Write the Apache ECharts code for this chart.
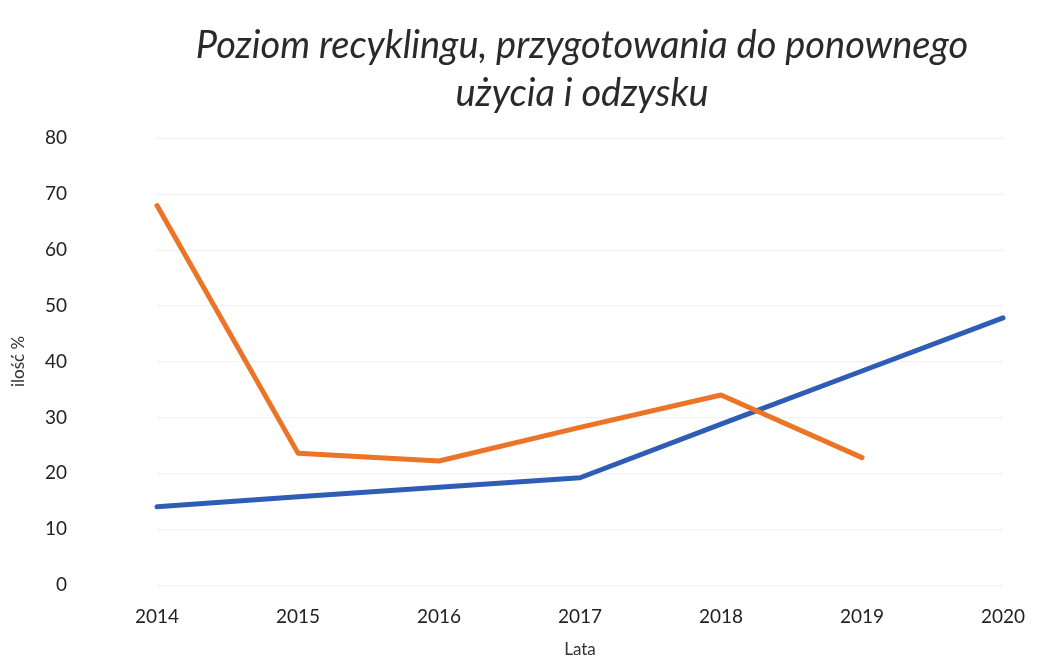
<!DOCTYPE html>
<html>
<head>
<meta charset="utf-8">
<script src="https://cdn.jsdelivr.net/npm/echarts@6/dist/echarts.min.js"></script>
<style>
html, body { margin: 0; padding: 0; background: #fff; }
#main { width: 1042px; height: 664px; }
</style>
</head>
<body>
<div id="main"></div>
<script>
var years = ['2014', '2015', '2016', '2017', '2018', '2019', '2020'];
var blueValues = [14, 15.8, 17.5, 19.2, 28.8, 38.3, 47.8];
var orangeValues = [67.9, 23.6, 22.2, 28.2, 34.0, 22.8, null];

var mychart = echarts.init(document.getElementById('main'));
var option = {
    backgroundColor: '#fff',
    title: {
        text: 'Poziom recyklingu, przygotowania do ponownego\nużycia i odzysku',
        left: 577,
        top: 17,
        textAlign: 'center',
        textStyle: {
            fontFamily: 'Lato',
            fontStyle: 'italic',
            fontWeight: 'normal',
            fontSize: 38,
            lineHeight: 48,
            color: '#2a2a2a'
        }
    },
    grid: {
        left: 157,
        right: 39,
        top: 138,
        bottom: 79
    },
    xAxis: {
        type: 'category',
        boundaryGap: false,
        data: years,
        name: 'Lata',
        nameLocation: 'middle',
        nameGap: 56,
        nameTextStyle: { fontFamily: 'Lato', fontSize: 17, color: '#333' },
        axisLine: { show: false },
        axisTick: { show: false },
        axisLabel: { fontFamily: 'Lato', fontSize: 19, color: '#222', margin: 22 }
    },
    yAxis: {
        type: 'value',
        min: 0,
        max: 80,
        interval: 10,
        name: 'ilość %',
        nameLocation: 'middle',
        nameRotate: 90,
        nameGap: 130,
        nameTextStyle: { fontFamily: 'Lato', fontSize: 17, color: '#333' },
        axisLine: { show: false },
        axisTick: { show: false },
        axisLabel: { fontFamily: 'Lato', fontSize: 19, color: '#222', margin: 90 },
        splitLine: { lineStyle: { color: '#f0f0f0', width: 1 } }
    },
    series: [
        {
            name: 'niebieska',
            type: 'line',
            data: blueValues,
            symbol: 'none',
            lineStyle: { color: '#2f5db5', width: 5, cap: 'round', join: 'round' },
            itemStyle: { color: '#2f5db5' }
        },
        {
            name: 'pomarańczowa',
            type: 'line',
            data: orangeValues,
            symbol: 'none',
            lineStyle: { color: '#ec7427', width: 5, cap: 'round', join: 'round' },
            itemStyle: { color: '#ec7427' }
        }
    ]
};
mychart.setOption(option);
</script>
</body>
</html>
